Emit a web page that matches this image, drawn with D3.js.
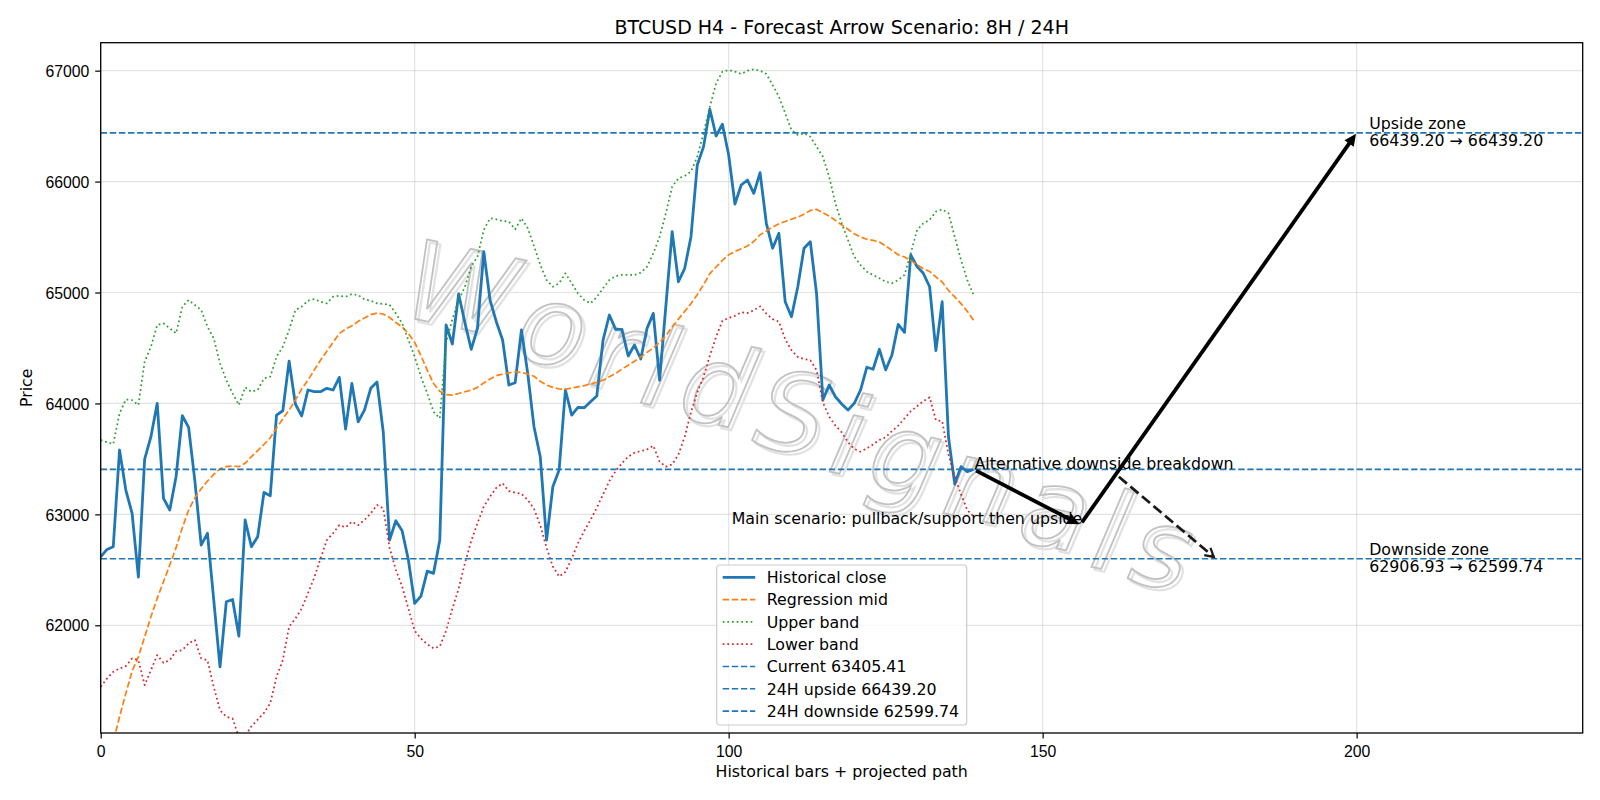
<!DOCTYPE html>
<html>
<head>
<meta charset="utf-8">
<script src="https://cdn.jsdelivr.net/npm/d3@7/dist/d3.min.js"></script>
<style>
  body { margin: 0; background: #fff; }
  svg { font-family: "DejaVu Sans", sans-serif; }
  .grid line { stroke: #b0b0b0; stroke-opacity: 0.35; stroke-width: 1.2; }
  .tick line { stroke: #000; stroke-width: 1.2; }
  .tick text { font-size: 15.8px; fill: #000; }
  .lbl { font-size: 15.8px; fill: #000; }
  .wm { fill: none; stroke: #c2c2c2; stroke-width: 1.8; font-style: italic; }
  .wm2 { fill: none; stroke: #e2e2e2; stroke-width: 2.2; font-style: italic; }
</style>
</head>
<body>
<script>
  // ---- data ----
  const title = 'BTCUSD H4 - Forecast Arrow Scenario: 8H / 24H';
  const xTicks = [0, 50, 100, 150, 200];
  const yTicks = [62000, 63000, 64000, 65000, 66000, 67000];
  const xDomain = [0, 236];
  const yDomain = [61029, 67252];

  const closes = [
    62618,62684,62708,63580,63219,63009,62435,63499,63700,64001,
    63144,63039,63339,63889,63784,63300,62723,62829,62230,61626,
    62212,62233,61903,62949,62708,62798,63198,63168,63895,63934,
    64382,63995,63887,64121,64106,64106,64136,64121,64235,63769,
    64181,63835,63940,64136,64193,63740,62768,62942,62852,62588,
    62197,62263,62488,62468,62768,64707,64536,64987,64728,64488,
    64677,65368,64932,64737,64572,64166,64187,64662,64271,63790,
    63519,62768,63249,63400,64121,63895,63964,63961,64015,64067,
    64572,64797,64668,64668,64428,64527,64401,64677,64812,64211,
    64880,65548,65097,65218,65503,66150,66315,66652,66411,66517,
    66240,65798,65969,66014,65894,66080,65624,65399,65534,64917,
    64782,65050,65399,65458,64990,64031,64166,64060,63995,63940,
    64001,64121,64326,64308,64488,64302,64437,64713,64641,65338,
    65233,65173,65052,64476,64917,63700,63273,63430,63385,63405.41];

  const regMid = [
    60400,60700,60950,61175,61386,61587,61716,61896,62077,62243,
    62392,62543,62700,62880,63039,63150,63230,63300,63360,63410,
    63430,63435,63430,63460,63520,63575,63630,63690,63780,63860,
    63940,64030,64130,64210,64300,64390,64470,64550,64630,64670,
    64700,64740,64770,64800,64815,64805,64775,64730,64690,64630,
    64550,64430,64300,64180,64110,64080,64075,64090,64105,64120,
    64145,64185,64220,64250,64265,64275,64285,64280,64265,64245,
    64200,64165,64145,64130,64127,64140,64150,64160,64175,64190,
    64210,64240,64270,64310,64345,64380,64420,64460,64500,64550,
    64610,64690,64760,64830,64900,64980,65070,65170,65230,65290,
    65340,65370,65395,65420,65460,65520,65555,65590,65620,65640,
    65660,65680,65705,65740,65750,65720,65690,65650,65610,65570,
    65530,65500,65480,65470,65455,65420,65380,65340,65320,65290,
    65250,65215,65190,65140,65095,65020,64960,64900,64830,64750];

  const upperBand = [
    63670,63650,63634,63910,64036,64030,63986,64376,64511,64707,
    64722,64677,64632,64872,64932,64887,64842,64692,64587,64362,
    64211,64091,63986,64145,64106,64121,64226,64241,64421,64511,
    64662,64842,64872,64926,64941,64917,64902,64962,64971,64962,
    64986,64977,64938,64926,64902,64896,64890,64812,64722,64572,
    64421,64241,64091,63925,63866,64550,64760,64930,65052,65233,
    65323,65564,65669,65660,65645,65639,65570,65669,65580,65420,
    65250,65113,65052,65083,65173,65083,64993,64932,64903,64960,
    65038,65113,65149,65158,65158,65158,65179,65233,65353,65503,
    65714,65954,66030,66050,66090,66225,66436,66676,66886,66991,
    67006,66991,66970,67000,67012,67000,66970,66870,66766,66616,
    66465,66420,66436,66405,66315,66225,66044,65804,65624,65473,
    65323,65248,65188,65158,65128,65098,65083,65113,65158,65353,
    65564,65624,65654,65729,65750,65714,65503,65293,65113,64978];

  const lowerBand = [
    61446,61520,61581,61610,61632,61702,61686,61461,61596,61731,
    61662,61686,61767,61776,61837,61867,61702,61686,61446,61235,
    61175,61160,60990,61000,61090,61150,61210,61296,61536,61686,
    61987,62060,62150,62288,62430,62600,62768,62829,62903,62883,
    62933,62903,62949,63009,63084,63054,62700,62500,62350,62150,
    61950,61880,61830,61792,61810,61950,62150,62330,62560,62760,
    62920,63070,63160,63240,63280,63210,63195,63185,63130,63050,
    62900,62700,62530,62440,62480,62600,62740,62850,62950,63060,
    63180,63300,63390,63460,63520,63555,63570,63585,63619,63475,
    63430,63450,63540,63700,63920,64100,64240,64430,64600,64745,
    64770,64790,64822,64815,64840,64875,64810,64760,64737,64580,
    64480,64420,64400,64390,64300,64010,63880,63800,63740,63650,
    63590,63565,63595,63630,63670,63695,63750,63800,63865,63930,
    63975,64020,64055,63850,63840,63540,63340,63180,63040,62980];

  const current = 63405.41;
  const upside = 66439.20;
  const downside = 62599.74;
  const pullback = 62906.93;

  // projected path: [bar, price] pairs
  const mainLeg = [[139, current], [156, pullback]];
  const upLeg = [[156, pullback], [200, upside]];
  const altLeg = [[161.8, 63355], [177.6, downside]];
  const zoneBar = 202;

  const watermark = 'WorldSignals';

  // ---- layout ----
  const W = 1600, H = 800;
  const L = 100.7, R = 1582.7, T = 42.7, B = 733;
  const blue = '#1f77b4', orange = '#ff7f0e', green = '#2ca02c', red = '#d62728';
  const dashed = '6.4,2.7', dotted = '1.75,2.9';

  const x = d3.scaleLinear().domain(xDomain).range([L, R]);
  const y = d3.scaleLinear().domain(yDomain).range([B, T]);

  const svg = d3.select('body').append('svg')
    .attr('width', W).attr('height', H);

  svg.append('defs').append('clipPath').attr('id', 'clip')
    .append('rect').attr('x', L).attr('y', T).attr('width', R - L).attr('height', B - T);

  // grid
  const grid = svg.append('g').attr('class', 'grid');
  grid.selectAll('.v').data(xTicks).join('line').attr('class', 'v')
    .attr('x1', d => x(d)).attr('x2', d => x(d)).attr('y1', T).attr('y2', B);
  grid.selectAll('.h').data(yTicks).join('line').attr('class', 'h')
    .attr('y1', d => y(d)).attr('y2', d => y(d)).attr('x1', L).attr('x2', R);

  // watermark
  const wmG = svg.append('g').attr('clip-path', 'url(#clip)');
  [['wm2', 3], ['wm', 0]].forEach(([cls, off]) => {
    wmG.append('text').attr('class', cls)
      .attr('transform', `translate(${803 + off},${422 + off}) rotate(20)`)
      .attr('text-anchor', 'middle').attr('dominant-baseline', 'central')
      .attr('font-size', 110)
      .attr('rotate', -8)
      .attr('textLength', 830).attr('lengthAdjust', 'spacing')
      .text(watermark);
  });

  // series
  const plot = svg.append('g').attr('clip-path', 'url(#clip)');
  const line = d3.line().x((d, i) => x(i)).y(d => y(d));

  const series = [
    {label: 'Historical close', data: closes, color: blue, width: 2.8, dash: null},
    {label: 'Regression mid', data: regMid, color: orange, width: 1.7, dash: dashed},
    {label: 'Upper band', data: upperBand, color: green, width: 1.75, dash: dotted},
    {label: 'Lower band', data: lowerBand, color: red, width: 1.75, dash: dotted},
  ];
  series.forEach(s => {
    plot.append('path').attr('d', line(s.data))
      .attr('fill', 'none').attr('stroke', s.color)
      .attr('stroke-width', s.width).attr('stroke-dasharray', s.dash)
      .attr('stroke-linejoin', 'round');
  });

  // level lines
  const levels = [
    {label: `Current ${current.toFixed(2)}`, value: current},
    {label: `24H upside ${upside.toFixed(2)}`, value: upside},
    {label: `24H downside ${downside.toFixed(2)}`, value: downside},
  ];
  plot.selectAll('.lvl').data(levels).join('line').attr('class', 'lvl')
    .attr('x1', L).attr('x2', R).attr('y1', d => y(d.value)).attr('y2', d => y(d.value))
    .attr('stroke', blue).attr('stroke-width', 1.6).attr('stroke-dasharray', dashed);

  // arrows
  function arrow(leg, opt) {
    const [x0, y0] = [x(leg[0][0]), y(leg[0][1])];
    const [x1, y1] = [x(leg[1][0]), y(leg[1][1])];
    const len = Math.hypot(x1 - x0, y1 - y0);
    const ux = (x1 - x0) / len, uy = (y1 - y0) / len;
    const nx = -uy, ny = ux;
    const s = 2.8;
    const ax = x0 + ux * s, ay = y0 + uy * s;
    const bx = x1 - ux * s, by = y1 - uy * s;
    const hl = opt.headLen, hw = opt.headWidth;
    const g = svg.append('g');
    if (opt.filled) {
      g.append('line')
        .attr('x1', ax).attr('y1', ay)
        .attr('x2', bx - ux * hl * 0.7).attr('y2', by - uy * hl * 0.7)
        .attr('stroke', opt.color).attr('stroke-width', opt.width);
      g.append('path')
        .attr('d', `M${bx},${by}L${bx - ux * hl + nx * hw},${by - uy * hl + ny * hw}` +
                   `L${bx - ux * hl - nx * hw},${by - uy * hl - ny * hw}Z`)
        .attr('fill', opt.color).attr('stroke', opt.color)
        .attr('stroke-width', 1.5).attr('stroke-linejoin', 'miter');
    } else {
      g.append('line')
        .attr('x1', ax).attr('y1', ay).attr('x2', bx).attr('y2', by)
        .attr('stroke', opt.color).attr('stroke-width', opt.width)
        .attr('stroke-dasharray', opt.dash);
      g.append('path')
        .attr('d', `M${bx - ux * hl + nx * hw},${by - uy * hl + ny * hw}L${bx},${by}` +
                   `L${bx - ux * hl - nx * hw},${by - uy * hl - ny * hw}`)
        .attr('fill', 'none').attr('stroke', opt.color).attr('stroke-width', opt.width * 0.8);
    }
  }

  // texts
  const txt = (tx, ty, s, anchor) => svg.append('text').attr('class', 'lbl')
    .attr('x', tx).attr('y', ty).attr('text-anchor', anchor || 'start').text(s);

  txt(x(139) + 1, y(current), 'Alternative downside breakdown');
  txt(x(156) + 2, y(pullback) - 0.3, 'Main scenario: pullback/support then upside', 'end');

  arrow(mainLeg, {filled: true, color: '#000', width: 3.8, headLen: 9.5, headWidth: 4.5});
  arrow(upLeg, {filled: true, color: '#000', width: 3.8, headLen: 9.5, headWidth: 4.5});
  arrow(altLeg, {filled: false, color: '#1a1a1a', width: 2.8, dash: '10.5,4.6', headLen: 8.5, headWidth: 4.8});

  txt(x(zoneBar), y(upside) - 4.2, 'Upside zone');
  txt(x(zoneBar), y(upside) + 13.1, `${upside.toFixed(2)} \u2192 ${upside.toFixed(2)}`);
  txt(x(zoneBar), y(downside) - 4.2, 'Downside zone');
  txt(x(zoneBar), y(downside) + 13.1, `${pullback.toFixed(2)} \u2192 ${downside.toFixed(2)}`);

  // legend
  const legendItems = series.map(s => ({label: s.label, color: s.color, width: s.width, dash: s.dash}))
    .concat(levels.map(l => ({label: l.label, color: blue, width: 1.6, dash: dashed})));
  const lg = svg.append('g').attr('transform', 'translate(716.7,565)');
  lg.append('rect').attr('width', 250).attr('height', 160).attr('rx', 3)
    .attr('fill', '#fff').attr('fill-opacity', 0.8)
    .attr('stroke', '#cccccc').attr('stroke-width', 1.2);
  const rows = lg.selectAll('.row').data(legendItems).join('g').attr('class', 'row')
    .attr('transform', (d, i) => `translate(0,${12.3 + i * 22.3})`);
  rows.append('line').attr('x1', 6).attr('x2', 38.5).attr('y1', 0).attr('y2', 0)
    .attr('stroke', d => d.color).attr('stroke-width', d => d.width)
    .attr('stroke-dasharray', d => d.dash);
  rows.append('text').attr('class', 'lbl').attr('x', 50).attr('y', 5.8).text(d => d.label);

  // spines
  svg.append('rect').attr('x', L).attr('y', T).attr('width', R - L).attr('height', B - T)
    .attr('fill', 'none').attr('stroke', '#000').attr('stroke-width', 1.3);

  // axes
  const xAxis = svg.append('g').attr('transform', `translate(0,${B})`)
    .call(d3.axisBottom(x).tickValues(xTicks).tickSize(5.5).tickSizeOuter(0).tickFormat(d3.format('d')));
  xAxis.select('.domain').remove();
  xAxis.selectAll('text').attr('dy', null).attr('y', 23.5);

  const yAxis = svg.append('g').attr('transform', `translate(${L},0)`)
    .call(d3.axisLeft(y).tickValues(yTicks).tickSize(5.5).tickPadding(5.8).tickSizeOuter(0).tickFormat(d3.format('d')));
  yAxis.select('.domain').remove();
  yAxis.selectAll('text').attr('dy', '0.36em');

  svg.append('text').attr('class', 'lbl').attr('text-anchor', 'middle')
    .attr('x', (L + R) / 2).attr('y', 776.5).text('Historical bars + projected path');
  svg.append('text').attr('class', 'lbl').attr('text-anchor', 'middle')
    .attr('transform', `translate(31.5,${(T + B) / 2}) rotate(-90)`).text('Price');
  svg.append('text').attr('text-anchor', 'middle').attr('font-size', 19)
    .attr('x', (L + R) / 2).attr('y', 33.5).text(title);
</script>
</body>
</html>
